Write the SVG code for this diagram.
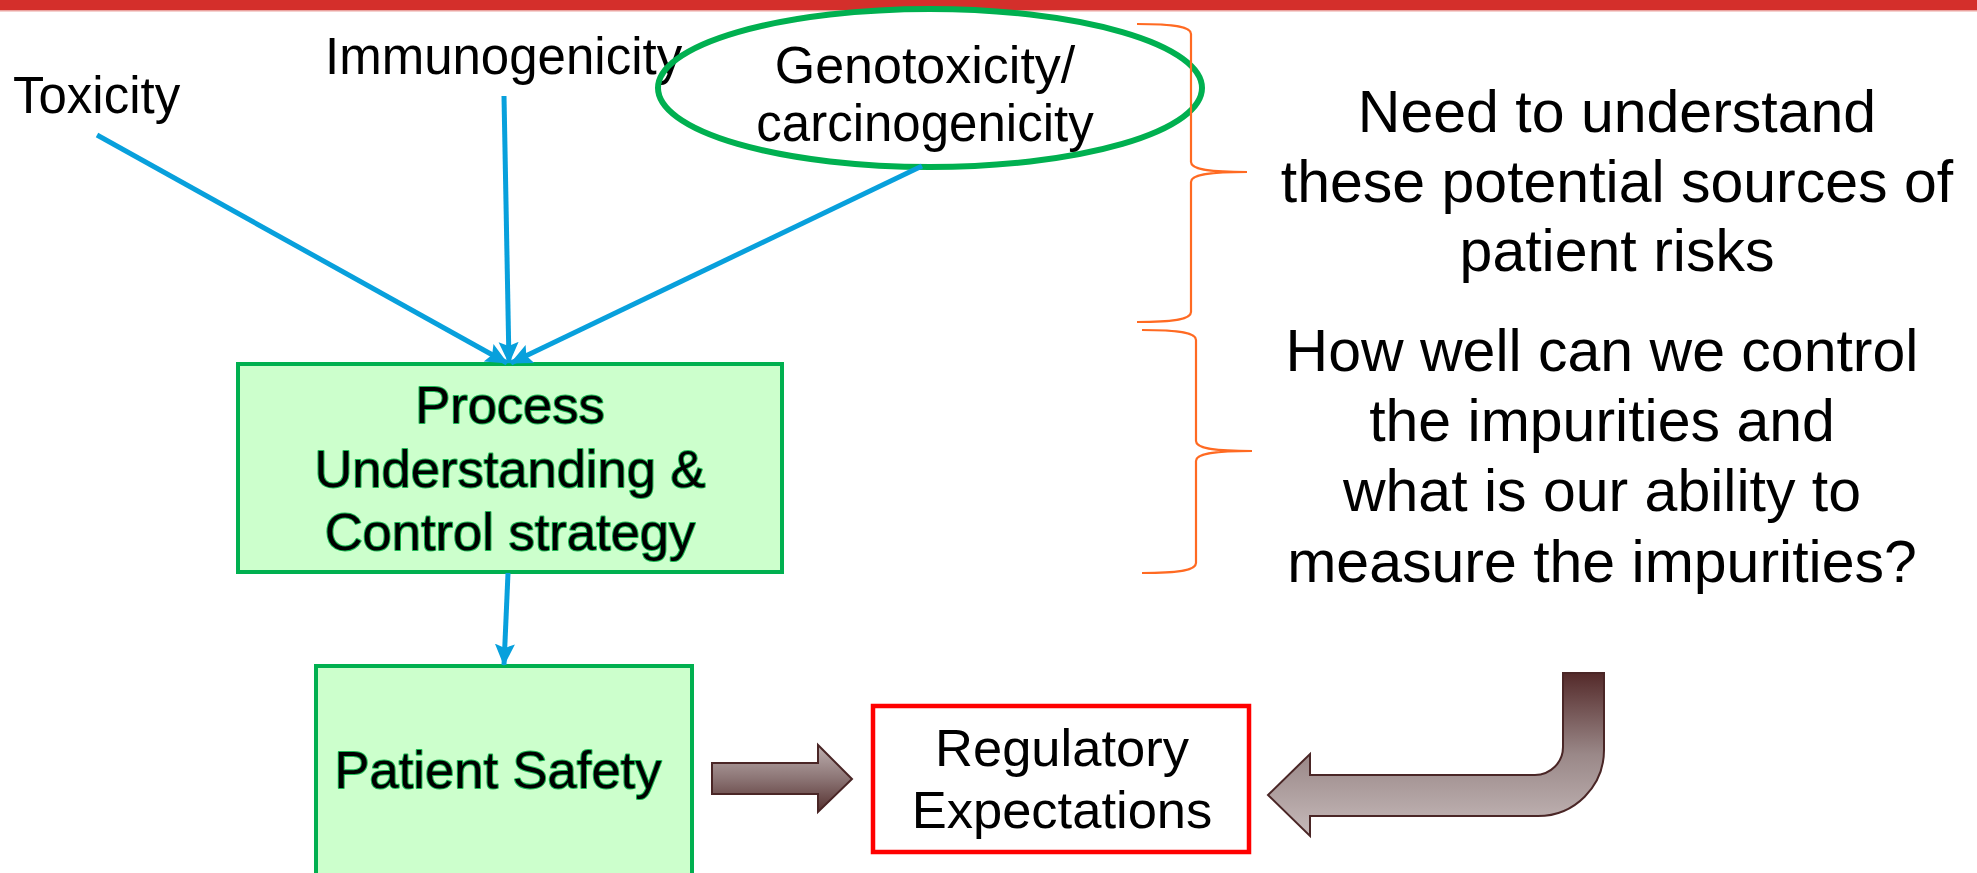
<svg xmlns="http://www.w3.org/2000/svg" width="1977" height="873" viewBox="0 0 1977 873">
<style>
text{font-family:"Liberation Sans",Arial,sans-serif;fill:#000}
.lbl{font-size:51px}
.box{fill:#CCFFCC;stroke:#00B050;stroke-width:4}
.btxt{font-size:52.5px;text-anchor:middle;stroke:#1DBA55;stroke-width:2;paint-order:stroke fill;stroke-linejoin:round}
.conn{stroke:#08A0DC;stroke-width:5;fill:none;marker-end:url(#ah)}
.rt{font-size:59px;text-anchor:middle}
.brace{fill:none;stroke:#FF6A22;stroke-width:2.2}
</style>
<defs>
<marker id="ah" markerUnits="userSpaceOnUse" markerWidth="22" markerHeight="22" viewBox="0 0 22 22" refX="21" refY="11" orient="auto">
<path d="M0,1 L22,11 L0,21 L4,11 Z" fill="#08A0DC"/>
</marker>
<linearGradient id="gBent" gradientUnits="userSpaceOnUse" x1="0" y1="673" x2="0" y2="836">
<stop offset="0" stop-color="#542A2A"/>
<stop offset="0.5" stop-color="#9A8888"/>
<stop offset="1" stop-color="#C6BABA"/>
</linearGradient>
<linearGradient id="gRight" gradientUnits="userSpaceOnUse" x1="0" y1="745" x2="0" y2="812">
<stop offset="0" stop-color="#BEB0B0"/>
<stop offset="0.5" stop-color="#8C7575"/>
<stop offset="1" stop-color="#55302F"/>
</linearGradient>
</defs>
<rect x="0" y="0" width="1977" height="10" fill="#D42F2B"/>
<rect x="0" y="10" width="1977" height="1.5" fill="#EBA3A0"/>

<g id="toxicity"><text class="lbl" x="13" y="113">Toxicity</text></g>
<g id="immunogenicity"><text class="lbl" x="325" y="74">Immunogenicity</text></g>
<g id="genotoxicity">
<ellipse cx="930" cy="88" rx="272" ry="79" fill="none" stroke="#00B050" stroke-width="6"/>
<text x="925" y="83" font-size="52" text-anchor="middle">Genotoxicity/</text>
<text class="lbl" x="925" y="141" text-anchor="middle">carcinogenicity</text>
</g>

<g id="process">
<rect class="box" x="238" y="364" width="544" height="208"/>
<text class="btxt" x="510" y="423">Process</text>
<text class="btxt" x="510" y="487">Understanding &amp;</text>
<text class="btxt" x="510" y="550">Control strategy</text>
</g>

<g id="patient-safety">
<rect class="box" x="316" y="666" width="376" height="220"/>
<text class="btxt" x="498" y="788">Patient Safety</text>
</g>

<g id="regulatory">
<rect x="873" y="706" width="376" height="146" fill="#FFFFFF" stroke="#FF0000" stroke-width="4.5"/>
<text x="1062" y="766" font-size="52.5" text-anchor="middle">Regulatory</text>
<text x="1062" y="828" font-size="52.5" text-anchor="middle">Expectations</text>
</g>

<g id="need-text">
<text class="rt" x="1617" y="132">Need to understand</text>
<text class="rt" x="1617" y="202">these potential sources of</text>
<text class="rt" x="1617" y="271">patient risks</text>
</g>
<g id="control-text">
<text class="rt" x="1602" y="371">How well can we control</text>
<text class="rt" x="1602" y="441">the impurities and</text>
<text class="rt" x="1602" y="511">what is our ability to</text>
<text class="rt" x="1602" y="582">measure the impurities?</text>
</g>

<g id="connectors">
<line class="conn" x1="97" y1="135" x2="507" y2="363"/>
<line class="conn" x1="504" y1="96" x2="509" y2="363"/>
<line class="conn" x1="922" y1="166" x2="511" y2="363"/>
<line class="conn" x1="508" y1="573" x2="504" y2="665"/>
<path class="brace" d="M1137,24 C1176,24 1191,27 1191,34 L1191,162 C1191,169 1206,172 1247,172 C1206,172 1191,175 1191,182 L1191,312 C1191,319 1176,322 1137,322"/>
<path class="brace" d="M1142,330 C1181,330 1196,333 1196,340 L1196,441 C1196,448 1211,451 1252,451 C1211,451 1196,454 1196,461 L1196,563 C1196,570 1181,573 1142,573"/>
<path d="M712,763 H818 V745 L852,779 L818,812 V794 H712 Z" fill="url(#gRight)" stroke="#4A2626" stroke-width="2"/>
<path d="M1563,673 H1604 V750 A66,66 0 0 1 1538,816 H1310 V836 L1268,795 L1310,754 V775 H1535 A28,28 0 0 0 1563,747 Z" fill="url(#gBent)" stroke="#4A2626" stroke-width="2"/>
</g>
</svg>
